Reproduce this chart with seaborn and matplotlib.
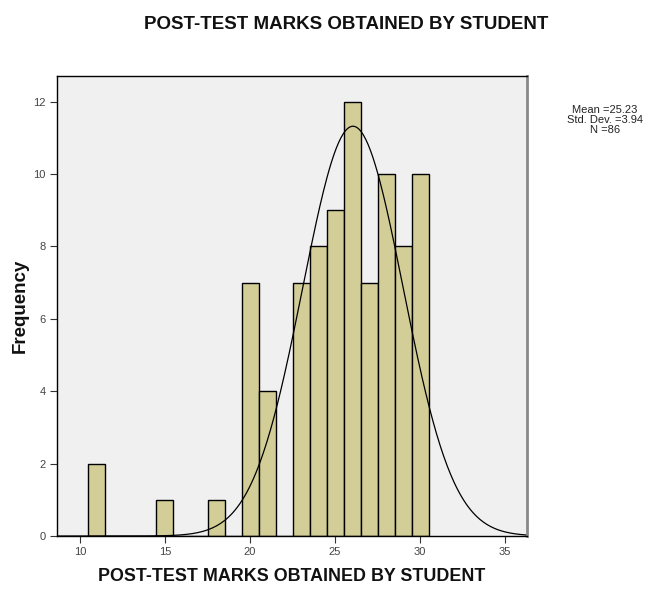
import numpy as np
import pandas as pd
import matplotlib
matplotlib.use("Agg")
import matplotlib.pyplot as plt
import seaborn as sns

# 每个分数对应的人数 (histogram bars)
scores = [11, 15, 18, 20, 21, 23, 24, 25, 26, 27, 28, 29, 30]
counts = [2, 1, 1, 7, 4, 7, 8, 9, 12, 7, 10, 8, 10]

# SPSS 风格的正态曲线参数
curve_mean = 26.05
curve_sd = 2.95
curve_scale = 83.7

stats_text = ["Mean =25.23", "Std. Dev. =3.94", "N =86"]
title = "POST-TEST MARKS OBTAINED BY STUDENT"

sns.set_style("white")
plt.rcParams['font.family'] = ['Liberation Sans', 'DejaVu Sans']
plt.rcParams['text.color'] = '#111111'
plt.rcParams['axes.labelcolor'] = '#111111'

df = pd.DataFrame({'score': scores, 'count': counts})

fig = plt.figure(figsize=(6.55, 5.91), dpi=100)
ax = fig.add_axes([0.087, 0.093, 0.718, 0.778])
ax.set_facecolor("#F0F0F0")

sns.histplot(data=df, x='score', weights='count', discrete=True,
             color="#D3CE97", edgecolor="black", linewidth=1.0,
             alpha=1, ax=ax)

xs = np.linspace(8.65, 36.3, 400)
ys = curve_scale / (curve_sd * np.sqrt(2 * np.pi)) * np.exp(-0.5 * ((xs - curve_mean) / curve_sd) ** 2)
sns.lineplot(x=xs, y=ys, color="black", linewidth=0.9, ax=ax)

ax.set_xlim(8.65, 36.3)
ax.set_ylim(0, 12.7)
ax.set_xticks([10, 15, 20, 25, 30, 35])
ax.set_yticks([0, 2, 4, 6, 8, 10, 12])
ax.tick_params(axis='both', direction='out', length=5, width=0.8,
               color="#333333", labelsize=8, labelcolor="#444444", pad=3)
ax.tick_params(axis='both', which='both', bottom=True, left=True)
for s in ax.spines.values():
    s.set_color("black")
    s.set_linewidth(1.0)
ax.spines['right'].set_color("#888888")
ax.spines['right'].set_linewidth(2.0)

ax.set_xlabel(title, fontsize=12.9, fontweight='bold', labelpad=8)
ax.set_ylabel("Frequency", fontsize=13.5, fontweight='bold')
ax.yaxis.set_label_coords(-0.06, 0.5)

fig.text(0.529, 0.958, title, ha='center', va='center', fontsize=13.5, fontweight='bold')
fig.text(0.923, 0.797, "\n".join(stats_text), ha='center', va='center',
         fontsize=8, linespacing=1.0, color="#222222")

plt.savefig("out.png", dpi=100)
plt.close()
